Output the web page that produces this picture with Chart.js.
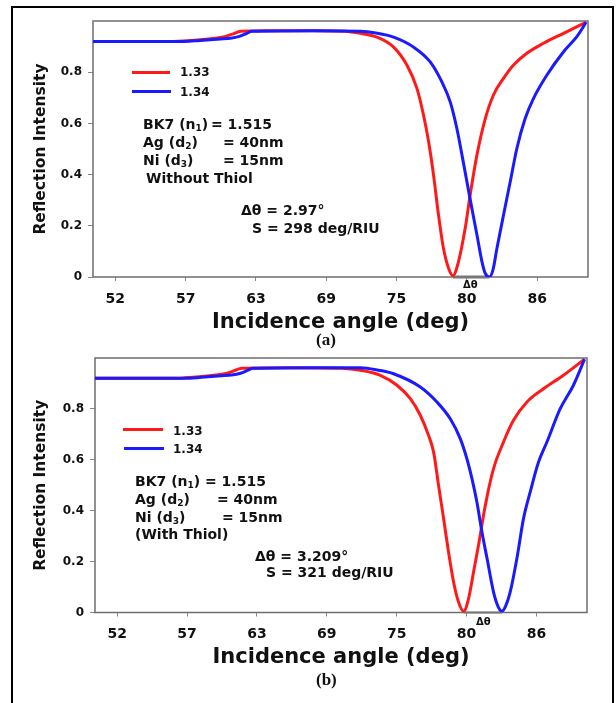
<!DOCTYPE html>
<html>
<head>
<meta charset="utf-8">
<script src="https://cdn.jsdelivr.net/npm/chart.js@4.4.0/dist/chart.umd.min.js"></script>
<style>
    body { margin: 0; width: 616px; height: 703px; background: #fff; position: relative; overflow: hidden;
           font-family: 'DejaVu Sans', sans-serif; font-weight: bold; color: #111; }
    #frame { position: absolute; left: 11px; top: 6px; width: 599px; height: 720px; border: 2.5px solid #000; border-bottom: none; }
    canvas { position: absolute; left: 0; }
    #chart_a { top: 0; }
    #chart_b { top: 340px; }
    .txt { position: absolute; white-space: nowrap; font-size: 14px; line-height: 14px; z-index: 2; }
    .txt sub { font-size: 9px; vertical-align: -2px; line-height: 0; }
    .leg { position: absolute; height: 3px; z-index: 2; }
    .small { font-size: 10px; line-height: 10px; }
    .lbl { font-family: 'Liberation Serif', serif; font-size: 17px; line-height: 17px; }
</style>
</head>
<body>
<div id="frame"></div>
<canvas id="chart_a" width="616" height="345"></canvas>
<canvas id="chart_b" width="616" height="363"></canvas>

<!-- panel (a) annotations -->
<div class="leg" style="left:132px; top:71px; width:38px; background:#ff1a1a;"></div>
<div class="txt" style="left:180px; top:66px; font-size:12px; line-height:12px;">1.33</div>
<div class="leg" style="left:132px; top:90px; width:39px; background:#1a1aff;"></div>
<div class="txt" style="left:180px; top:86px; font-size:12px; line-height:12px;">1.34</div>
<div class="txt" style="left:143px; top:117px;">BK7 (n<sub>1</sub>)</div>
<div class="txt" style="left:211px; top:117px;">= 1.515</div>
<div class="txt" style="left:143px; top:135px;">Ag (d<sub>2</sub>)</div>
<div class="txt" style="left:223px; top:135px;">= 40nm</div>
<div class="txt" style="left:143px; top:153px;">Ni (d<sub>3</sub>)</div>
<div class="txt" style="left:223px; top:153px;">= 15nm</div>
<div class="txt" style="left:146px; top:171px;">Without Thiol</div>
<div class="txt" style="left:241px; top:203px;">Δθ = 2.97°</div>
<div class="txt" style="left:252px; top:221px;">S = 298 deg/RIU</div>
<div class="txt small" style="left:463px; top:280px;">Δθ</div>
<div class="txt lbl" style="left:316px; top:331px;">(a)</div>

<!-- panel (b) annotations -->
<div class="leg" style="left:123px; top:428px; width:40px; background:#ff1a1a;"></div>
<div class="txt" style="left:173px; top:425px; font-size:12px; line-height:12px;">1.33</div>
<div class="leg" style="left:124px; top:447px; width:40px; background:#1a1aff;"></div>
<div class="txt" style="left:173px; top:443px; font-size:12px; line-height:12px;">1.34</div>
<div class="txt" style="left:135px; top:474px;">BK7 (n<sub>1</sub>)</div>
<div class="txt" style="left:205px; top:474px;">= 1.515</div>
<div class="txt" style="left:135px; top:492px;">Ag (d<sub>2</sub>)</div>
<div class="txt" style="left:217px; top:492px;">= 40nm</div>
<div class="txt" style="left:135px; top:510px;">Ni (d<sub>3</sub>)</div>
<div class="txt" style="left:222px; top:510px;">= 15nm</div>
<div class="txt" style="left:135px; top:527px;">(With Thiol)</div>
<div class="txt" style="left:255px; top:549px;">Δθ = 3.209°</div>
<div class="txt" style="left:266px; top:565px;">S = 321 deg/RIU</div>
<div class="txt small" style="left:476px; top:617px;">Δθ</div>
<div class="txt lbl" style="left:316px; top:671px;">(b)</div>

<script>
// axis ticks as printed on the figure
const xTickValues = [52, 57.67, 63.33, 69, 74.67, 80.33, 86];
const xTickLabels = ['52', '57', '63', '69', '75', '80', '86'];
const yTickValues = [0, 0.2, 0.4, 0.6, 0.8];
const yTickLabels = ['0', '0.2', '0.4', '0.6', '0.8'];
const seriesNames = ['1.33', '1.34'];

// (a) without thiol
const angles_a_133 = [50.2, 56.5, 57.5, 58.85, 60.0, 60.9, 61.5, 62.1, 64, 68, 70.5, 71.74, 73.09, 74.43, 75.5, 76.31, 76.84, 77.25, 77.65, 78.05, 78.45, 78.86, 79.21, 79.66, 80.2, 80.6, 81.15, 81.8, 82.48, 83.29, 84.1, 85.17, 86.51, 88.13, 89.95];
const refl_a_133 = [0.92, 0.92, 0.922, 0.927, 0.933, 0.94, 0.95, 0.96, 0.962, 0.962, 0.96, 0.952, 0.937, 0.898, 0.828, 0.737, 0.633, 0.529, 0.398, 0.242, 0.112, 0.034, 0.005, 0.06, 0.19, 0.32, 0.477, 0.615, 0.711, 0.776, 0.828, 0.874, 0.913, 0.952, 0.995];
const angles_a_134 = [50.2, 57.5, 58.85, 60.46, 61.27, 62.0, 62.6, 63.0, 68, 71.74, 73.0, 74.43, 76.04, 77.38, 78.33, 79.0, 79.53, 79.94, 80.34, 80.74, 81.15, 81.55, 81.8, 82.16, 82.45, 82.76, 83.29, 83.83, 84.37, 85.04, 85.71, 86.79, 88.13, 89.2, 89.95];
const refl_a_134 = [0.92, 0.92, 0.924, 0.93, 0.933, 0.94, 0.952, 0.96, 0.962, 0.96, 0.953, 0.937, 0.898, 0.84, 0.761, 0.683, 0.58, 0.477, 0.372, 0.268, 0.164, 0.06, 0.016, 0.0, 0.03, 0.112, 0.242, 0.372, 0.503, 0.62, 0.698, 0.789, 0.88, 0.939, 0.995];

// (b) with thiol
const angles_b_133 = [50.2, 56.5, 57.5, 58.85, 60.0, 60.9, 61.5, 62.1, 66, 70.2, 71.72, 73.34, 74.69, 75.77, 76.58, 77.25, 77.66, 78.06, 78.47, 78.87, 79.28, 79.68, 80.09, 80.49, 80.9, 81.3, 81.85, 82.52, 83.33, 84.14, 85.23, 86.57, 88.19, 89.9];
const refl_b_133 = [0.92, 0.92, 0.922, 0.927, 0.933, 0.94, 0.95, 0.96, 0.962, 0.96, 0.952, 0.932, 0.893, 0.84, 0.775, 0.696, 0.63, 0.50, 0.369, 0.238, 0.12, 0.041, 0.004, 0.054, 0.159, 0.264, 0.42, 0.565, 0.67, 0.755, 0.827, 0.879, 0.932, 0.995];
const angles_b_134 = [50.2, 57.5, 58.85, 60.46, 61.27, 62.0, 62.6, 63.0, 68, 71.72, 73.2, 74.41, 76.58, 77.93, 79.01, 79.82, 80.36, 80.77, 81.17, 81.58, 82.0, 82.52, 82.9, 83.2, 83.5, 83.87, 84.41, 84.95, 85.49, 86.17, 86.85, 87.92, 89.0, 89.9];
const refl_b_134 = [0.92, 0.92, 0.924, 0.93, 0.933, 0.94, 0.952, 0.96, 0.962, 0.962, 0.952, 0.938, 0.886, 0.827, 0.761, 0.683, 0.604, 0.526, 0.434, 0.316, 0.211, 0.08, 0.022, 0.005, 0.025, 0.08, 0.211, 0.369, 0.473, 0.591, 0.67, 0.80, 0.893, 0.995];

function toPoints(angles, refl) {
    return angles.map((a, i) => ({x: a, y: refl[i]}));
}

function dipAngle(angles, refl) {
    let k = 0;
    for (let i = 1; i < refl.length; i++) {
        if (refl[i] < refl[k]) k = i;
    }
    return angles[k];
}

// grey box round the plot and the Δθ bar between the two dips
const framePlugin = {
    id: 'frame',
    beforeDatasetsDraw(chart, args, opts) {
        const a = chart.chartArea;
        const ctx = chart.ctx;
        const xs = chart.scales.x;
        const ys = chart.scales.y;
        ctx.save();
        ctx.strokeStyle = '#6e6e6e';
        ctx.lineWidth = 1.5;
        ctx.strokeRect(a.left, a.top, a.right - a.left, a.bottom - a.top);
        ctx.strokeStyle = '#777';
        ctx.lineWidth = opts.barWidth;
        ctx.beginPath();
        ctx.moveTo(xs.getPixelForValue(opts.dip1), ys.getPixelForValue(0));
        ctx.lineTo(xs.getPixelForValue(opts.dip2), ys.getPixelForValue(0));
        ctx.stroke();
        ctx.restore();
    }
};

function createReflectionChart(my_graph_id, ang133, r133, ang134, r134, lay) {
    const data = {
        datasets: [{
            label: seriesNames[0], data: toPoints(ang133, r133), borderColor: '#ff1a1a', borderWidth: 3,
            pointRadius: 0, cubicInterpolationMode: 'monotone', order: 1
        }, {
            label: seriesNames[1], data: toPoints(ang134, r134), borderColor: '#1a1aff', borderWidth: 3,
            pointRadius: 0, cubicInterpolationMode: 'monotone', order: 0
        }]
    };
    const config = {
        type: 'line', data: data, plugins: [framePlugin], options: {
            responsive: false, animation: false, devicePixelRatio: 1,
            layout: { padding: lay.padding },
            scales: {
                x: {
                    type: 'linear', min: 50.2, max: 90.1,
                    afterBuildTicks: s => { s.ticks = xTickValues.map(v => ({value: v})); },
                    afterFit: s => { s.height = lay.xHeight; },
                    ticks: {
                        autoSkip: false, maxRotation: 0, padding: lay.xTickPad, color: '#111',
                        font: { family: 'DejaVu Sans', weight: 'bold', size: 14 },
                        callback: (v, i) => xTickLabels[i]
                    },
                    grid: { drawOnChartArea: false, tickLength: 4, color: '#888' },
                    border: { display: false },
                    title: {
                        display: true, text: 'Incidence angle (deg)', color: '#111',
                        font: { family: 'DejaVu Sans', weight: 'bold', size: 21 }
                    }
                },
                y: {
                    min: 0, max: 1,
                    afterBuildTicks: s => { s.ticks = yTickValues.map(v => ({value: v})); },
                    afterFit: s => { s.width = lay.yWidth; },
                    ticks: {
                        padding: 6, color: '#111',
                        font: { family: 'DejaVu Sans', weight: 'bold', size: 12 },
                        callback: (v, i) => yTickLabels[i]
                    },
                    grid: { drawOnChartArea: false, tickLength: 5, color: '#888' },
                    border: { display: false },
                    title: {
                        display: true, text: 'Reflection Intensity', color: '#111',
                        font: { family: 'DejaVu Sans', weight: 'bold', size: 15.5 }
                    }
                }
            },
            plugins: {
                legend: { display: false },
                tooltip: { enabled: false },
                frame: { dip1: dipAngle(ang133, r133), dip2: dipAngle(ang134, r134), barWidth: lay.barWidth }
            }
        }
    };
    return new Chart(document.getElementById(my_graph_id), config);
}

createReflectionChart('chart_a', angles_a_133, refl_a_133, angles_a_134, refl_a_134, {
    padding: { top: 21, left: 27.7, right: 28, bottom: 5.4 }, yWidth: 65.3, xHeight: 62.6, xTickPad: 10, barWidth: 3
});
createReflectionChart('chart_b', angles_b_133, refl_b_133, angles_b_134, refl_b_134, {
    padding: { top: 18, left: 27.7, right: 29, bottom: 28.9 }, yWidth: 67.3, xHeight: 61.6, xTickPad: 9, barWidth: 2
});
</script>
</body>
</html>
